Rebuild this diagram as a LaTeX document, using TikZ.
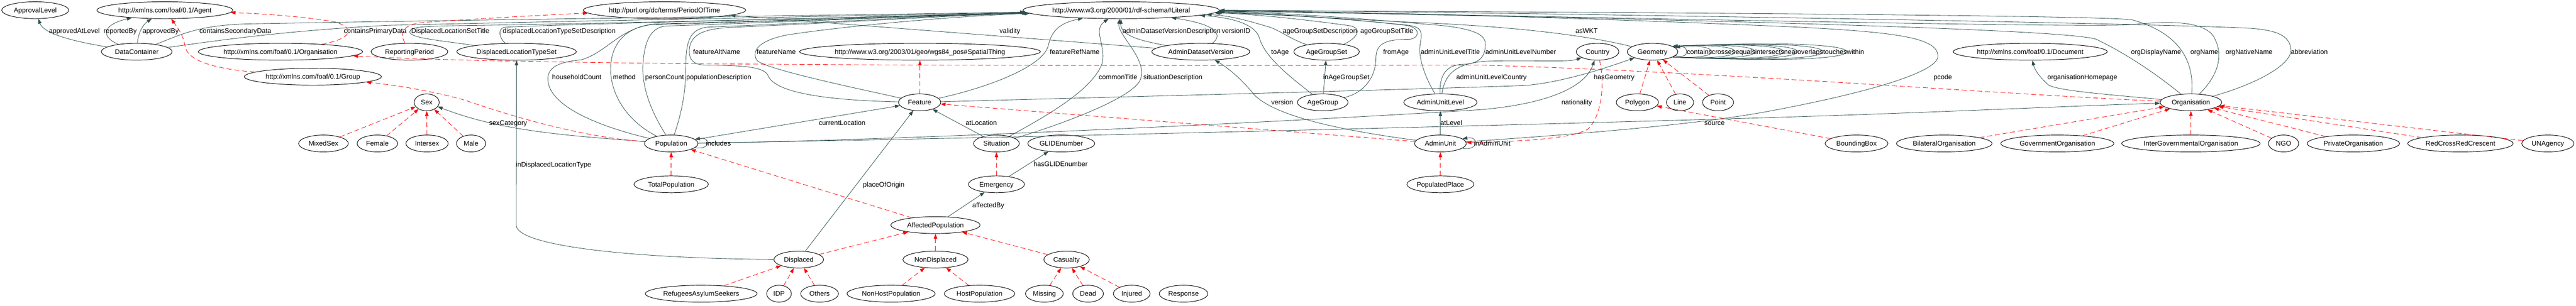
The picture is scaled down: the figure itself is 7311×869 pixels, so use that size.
\documentclass[tikz,border=0pt]{standalone}
\usepackage{fontspec}
\newfontfamily\lsans{Liberation Sans}
\usetikzlibrary{shapes.geometric,arrows.meta}
\definecolor{edgecol}{HTML}{2F4F4F}
\newcommand{\nf}{\lsans\fontsize{9.6}{11}\selectfont}
\begin{document}
\begin{tikzpicture}[x=0.5pt,y=-0.5pt,
 cls/.style={draw,ellipse,line width=0.7pt,minimum height=24pt,inner sep=0pt,font=\nf,text height=6.9pt,text depth=0pt},
 e/.style={draw=edgecol,line width=0.6pt,-{Triangle[length=7pt,width=5pt]}},
 sub/.style={draw=red,line width=0.6pt,dash pattern=on 7pt off 4pt,-{Triangle[length=7pt,width=5pt]}},
 lab/.style={font=\nf,inner sep=0pt,text height=6.9pt,text depth=0pt}]
\fill[white] (0,0) rectangle (7311,869);
\useasboundingbox (0,0) rectangle (7311,869);
% ---------- nodes ----------
\node[cls,minimum width=95pt] (approval) at (100,29) {ApprovalLevel};
\node[cls,minimum width=193pt] (agent) at (468,29) {http://xmlns.com/foaf/0.1/Agent};
\node[cls,minimum width=230.5pt] (period) at (1886,29) {http://purl.org/dc/terms/PeriodOfTime};
\node[cls,minimum width=278.5pt] (lit) at (3182,29) {http://www.w3.org/2000/01/rdf-schema\#Literal};
\node[cls,minimum width=100.5pt] (dc) at (388,147) {DataContainer};
\node[cls,minimum width=233pt] (forg) at (796,147) {http://xmlns.com/foaf/0.1/Organisation};
\node[cls,minimum width=109pt] (rperiod) at (1162,147) {ReportingPeriod};
\node[cls,minimum width=169.5pt] (dlts) at (1466,147) {DisplacedLocationTypeSet};
\node[cls,minimum width=337pt] (spatial) at (2611,147) {http://www.w3.org/2003/01/geo/wgs84\_pos\#SpatialThing};
\node[cls,minimum width=139pt] (adv) at (3408,147) {AdminDatasetVersion};
\node[cls,minimum width=93pt] (ags) at (3765,147) {AgeGroupSet};
\node[cls,minimum width=60.5pt] (country) at (4534,147) {Country};
\node[cls,minimum width=72pt] (geom) at (4690,147) {Geometry};
\node[cls,minimum width=218.5pt] (doc) at (5762,147) {http://xmlns.com/foaf/0.1/Document};
\node[cls,minimum width=194.5pt] (group) at (888,218) {http://xmlns.com/foaf/0.1/Group};
\node[cls,minimum width=35.5pt] (sex) at (1211,291) {Sex};
\node[cls,minimum width=60pt] (feature) at (2610,291) {Feature};
\node[cls,minimum width=72pt] (ag) at (3754,291) {AgeGroup};
\node[cls,minimum width=104pt] (aul) at (4088,291) {AdminUnitLevel};
\node[cls,minimum width=60pt] (polygon) at (4647,291) {Polygon};
\node[cls,minimum width=38.5pt] (line) at (4768,291) {Line};
\node[cls,minimum width=44pt] (point) at (4876,291) {Point};
\node[cls,minimum width=87.5pt] (org) at (6218,291) {Organisation};
\node[cls,minimum width=70.5pt] (mixed) at (918,408) {MixedSex};
\node[cls,minimum width=57.5pt] (female) at (1071,408) {Female};
\node[cls,minimum width=60pt] (intersex) at (1212,408) {Intersex};
\node[cls,minimum width=41.5pt] (male) at (1337,408) {Male};
\node[cls,minimum width=76pt] (pop) at (1905,408) {Population};
\node[cls,minimum width=65pt] (situation) at (2828,408) {Situation};
\node[cls,minimum width=95pt] (glide) at (3012,408) {GLIDEnumber};
\node[cls,minimum width=73.5pt] (au) at (4088,408) {AdminUnit};
\node[cls,minimum width=89pt] (bbox) at (5269,408) {BoundingBox};
\node[cls,minimum width=135.5pt] (bilat) at (5518,408) {BilateralOrganisation};
\node[cls,minimum width=160.5pt] (gov) at (5839,408) {GovernmentOrganisation};
\node[cls,minimum width=196.5pt] (igo) at (6218,408) {InterGovernmentalOrganisation};
\node[cls,minimum width=43pt] (ngo) at (6481,408) {NGO};
\node[cls,minimum width=131pt] (priv) at (6679,408) {PrivateOrganisation};
\node[cls,minimum width=149.5pt] (rc) at (6983,408) {RedCrossRedCrescent};
\node[cls,minimum width=74pt] (un) at (7231,408) {UNAgency};
\node[cls,minimum width=105.5pt] (totpop) at (1905,524) {TotalPopulation};
\node[cls,minimum width=79.5pt] (emerg) at (2828,524) {Emergency};
\node[cls,minimum width=95pt] (pplace) at (4088,524) {PopulatedPlace};
\node[cls,minimum width=126.5pt] (affpop) at (2655,640) {AffectedPopulation};
\node[cls,minimum width=70.5pt] (displaced) at (2267,738) {Displaced};
\node[cls,minimum width=92.5pt] (nondisp) at (2655,738) {NonDisplaced};
\node[cls,minimum width=64.5pt] (casualty) at (3027,738) {Casualty};
\node[cls,minimum width=158.5pt] (refugees) at (1990,835) {RefugeesAsylumSeekers};
\node[cls,minimum width=35pt] (idp) at (2211,835) {IDP};
\node[cls,minimum width=53.5pt] (others) at (2326,835) {Others};
\node[cls,minimum width=125pt] (nonhost) at (2529,835) {NonHostPopulation};
\node[cls,minimum width=100pt] (host) at (2780,835) {HostPopulation};
\node[cls,minimum width=53.5pt] (missing) at (2964,835) {Missing};
\node[cls,minimum width=43.5pt] (dead) at (3088,835) {Dead};
\node[cls,minimum width=52pt] (injured) at (3212,835) {Injured};
\node[cls,minimum width=69pt] (response) at (3359,835) {Response};
% ---------- solid edges ----------
\draw[e] (dc) .. controls (160,110) and (120,85) .. (approval);
\draw[e] (dc) .. controls (285,105) and (290,70) .. (agent);
\draw[e] (dc) .. controls (392,95) and (405,70) .. (agent);
\draw[e] (dc) .. controls (510,100) and (560,72) .. (700,68) .. controls (1400,55) and (2500,42) .. (lit);
\draw[e] (dc) .. controls (620,115) and (800,88) .. (1100,72) .. controls (1700,58) and (2500,44) .. (lit);
\draw[e] (dlts) .. controls (1250,115) and (1160,108) .. (1163,90) .. controls (1165,76) and (1200,75) .. (1300,73) .. controls (2000,62) and (2600,44) .. (lit);
\draw[e] (dlts) .. controls (1420,112) and (1410,85) .. (1430,78) .. controls (1460,72) and (2500,48) .. (lit);
\draw[e] (pop) .. controls (1700,360) and (1550,300) .. (1555,220) .. controls (1558,185) and (1600,175) .. (1650,170) .. controls (1720,150) and (1760,80) .. (1850,70) .. controls (2300,58) and (2700,44) .. (lit);
\draw[e] (pop) .. controls (1790,350) and (1735,280) .. (1733,200) .. controls (1732,120) and (1780,75) .. (1860,68) .. controls (2300,56) and (2700,42) .. (lit);
\draw[e] (pop) .. controls (1850,320) and (1820,250) .. (1825,180) .. controls (1830,110) and (1850,78) .. (1890,74) .. controls (2300,60) and (2700,42) .. (lit);
\draw[e] (pop) .. controls (1935,320) and (1946,260) .. (1946,200) .. controls (1946,120) and (1955,82) .. (2010,77) .. controls (2400,62) and (2700,42) .. (lit);
\draw[e] (feature) .. controls (2350,285) and (2200,265) .. (2180,215) .. controls (2168,188) and (2100,186) .. (2000,185) .. controls (1960,184) and (1952,160) .. (1958,130) .. controls (1968,92) and (2010,82) .. (2070,78) .. controls (2400,64) and (2700,44) .. (lit);
\draw[e] (feature) .. controls (2450,255) and (2160,195) .. (2147,170) .. controls (2132,140) and (2160,115) .. (2230,100) .. controls (2380,76) and (2700,46) .. (lit);
\draw[e] (feature) .. controls (2800,250) and (2960,190) .. (2975,130) .. controls (2985,85) and (3010,65) .. (lit);
\draw[e] (feature) .. controls (3000,280) and (4000,255) .. (4330,243) .. controls (4450,232) and (4580,185) .. (geom);
\draw[e] (situation) .. controls (2950,340) and (3100,260) .. (3128,180) .. controls (3140,130) and (3100,85) .. (lit);
\draw[e] (situation) .. controls (2960,370) and (3200,290) .. (3235,230) .. controls (3262,170) and (3170,100) .. (lit);
\draw[e] (adv) -- (period);
\draw[e] (adv) .. controls (3230,115) and (3180,100) .. (lit);
\draw[e] (adv) .. controls (3465,105) and (3470,72) .. (lit);
\draw[e] (ag) .. controls (3650,210) and (3590,160) .. (3575,110) .. controls (3565,70) and (3500,50) .. (lit);
\draw[e] (ag) -- (ags);
\draw[e] (ags) .. controls (3660,110) and (3630,85) .. (3600,76) .. controls (3550,62) and (3500,45) .. (lit);
\draw[e] (ags) .. controls (3850,110) and (3870,80) .. (3830,73) .. controls (3700,55) and (3560,40) .. (lit);
\draw[e] (ag) .. controls (3870,265) and (3905,220) .. (3905,165) .. controls (3905,120) and (3940,112) .. (3995,112) .. controls (4030,112) and (4035,78) .. (3990,72) .. controls (3800,50) and (3600,38) .. (lit);
\draw[e] (aul) .. controls (4050,230) and (4025,170) .. (4030,130) .. controls (4036,92) and (4040,76) .. (3990,71) .. controls (3800,52) and (3600,38) .. (lit);
\draw[e] (aul) .. controls (4085,220) and (4100,185) .. (4150,183) .. controls (4200,182) and (4218,160) .. (4215,120) .. controls (4212,90) and (4150,76) .. (4050,69) .. controls (3800,47) and (3600,35) .. (lit);
\draw[e] (aul) .. controls (4100,220) and (4120,180) .. (4220,174) .. controls (4350,170) and (4450,178) .. (country);
\draw[e] (au) -- (aul);
\draw[e] (au) .. controls (3800,370) and (3620,330) .. (3560,270) .. controls (3520,220) and (3480,190) .. (adv);
\draw[e] (au.-12) .. controls (4198,430) and (4198,386) .. (au.12);
\draw[e] (au) .. controls (4500,380) and (4800,355) .. (5000,320) .. controls (5300,265) and (5500,205) .. (5500,160) .. controls (5500,110) and (5400,92) .. (5100,77) .. controls (4500,50) and (3800,32) .. (lit);
\draw[e] (pop) .. controls (2500,400) and (3500,355) .. (4200,312) .. controls (4400,295) and (4500,245) .. (country);
\draw[e] (pop) .. controls (3000,390) and (4500,350) .. (5000,335) .. controls (5500,320) and (5900,300) .. (org);
\draw[e] (pop) -- (feature);
\draw[e] (pop) .. controls (1600,385) and (1420,372) .. (sex);
\draw[e] (pop.-10) .. controls (2018,428) and (2018,388) .. (pop.10);
\draw[e] (geom) .. controls (4500,100) and (4300,75) .. (4000,63) .. controls (3800,53) and (3600,40) .. (lit);
% geometry self loops
\draw[e] (geom.-10) .. controls (4779,164) and (4787,156) .. (4787,147) .. controls (4787,138) and (4779,130) .. (geom.10);
\draw[e] (geom.-15) .. controls (4829,166) and (4858,157) .. (4858,147) .. controls (4858,137) and (4829,128) .. (geom.15);
\draw[e] (geom.-15) .. controls (4876,168) and (4925,158) .. (4925,147) .. controls (4925,136) and (4876,126) .. (geom.15);
\draw[e] (geom.-15) .. controls (4915,170) and (4981,160) .. (4981,147) .. controls (4981,134) and (4915,124) .. (geom.15);
\draw[e] (geom.-15) .. controls (4972,172) and (5063,161) .. (5063,147) .. controls (5063,133) and (4972,122) .. (geom.15);
\draw[e] (geom.-15) .. controls (4999,174) and (5101,162) .. (5101,147) .. controls (5101,132) and (4999,120) .. (geom.15);
\draw[e] (geom.-15) .. controls (5050,176) and (5174,163) .. (5174,147) .. controls (5174,131) and (5050,118) .. (geom.15);
\draw[e] (geom.-15) .. controls (5097,178) and (5241,164) .. (5241,147) .. controls (5241,130) and (5097,116) .. (geom.15);
% organisation
\draw[e] (org) .. controls (6120,210) and (6030,150) .. (5950,112) .. controls (5850,72) and (3800,36) .. (lit);
\draw[e] (org) .. controls (6226,200) and (6210,100) .. (6050,56) .. controls (5900,40) and (3800,31) .. (lit);
\draw[e] (org) .. controls (6300,210) and (6312,150) .. (6280,100) .. controls (6245,58) and (6150,60) .. (6050,70) .. controls (5900,82) and (3800,33) .. (lit);
\draw[e] (org) .. controls (6400,240) and (6505,185) .. (6502,140) .. controls (6498,100) and (6460,85) .. (6380,80) .. controls (6000,62) and (3800,29) .. (lit);
\draw[e] (org) .. controls (6000,270) and (5830,258) .. (5812,240) .. controls (5790,220) and (5775,200) .. (doc);
% lower part
\draw[e] (situation) -- (feature);
\draw[e] (displaced) -- (feature);
\draw[e] (displaced) .. controls (1800,735) and (1465,700) .. (1465,640) -- (dlts);
\draw[e] (affpop) -- (emerg);
\draw[e] (emerg) -- (glide);
% ---------- subclass edges ----------
\draw[sub] (forg) .. controls (1000,110) and (1010,80) .. (950,62) .. controls (850,45) and (720,38) .. (agent);
\draw[sub] (group) .. controls (600,195) and (530,170) .. (525,130) .. controls (520,100) and (505,80) .. (agent);
\draw[sub] (rperiod) .. controls (1135,95) and (1140,70) .. (1200,64) .. controls (1400,50) and (1600,40) .. (period);
\draw[sub] (org) .. controls (5700,270) and (4900,205) .. (4200,185) .. controls (3000,188) and (1500,187) .. (forg);
\draw[sub] (pop) .. controls (1650,390) and (1450,330) .. (1320,285) .. controls (1250,265) and (1150,245) .. (group);
\draw[sub] (mixed) -- (sex);
\draw[sub] (female) -- (sex);
\draw[sub] (intersex) -- (sex);
\draw[sub] (male) -- (sex);
\draw[sub] (totpop) -- (pop);
\draw[sub] (affpop) -- (pop);
\draw[sub] (displaced) -- (affpop);
\draw[sub] (nondisp) -- (affpop);
\draw[sub] (casualty) -- (affpop);
\draw[sub] (refugees) -- (displaced);
\draw[sub] (idp) -- (displaced);
\draw[sub] (others) -- (displaced);
\draw[sub] (nonhost) -- (nondisp);
\draw[sub] (host) -- (nondisp);
\draw[sub] (missing) -- (casualty);
\draw[sub] (dead) -- (casualty);
\draw[sub] (injured) -- (casualty);
\draw[sub] (emerg) -- (situation);
\draw[sub] (feature) -- (spatial);
\draw[sub] (pplace) -- (au);
\draw[sub] (country) .. controls (4558,250) and (4540,340) .. (4505,368) .. controls (4450,400) and (4250,403) .. (au);
\draw[sub] (au) -- (feature);
\draw[sub] (polygon) -- (geom);
\draw[sub] (line) -- (geom);
\draw[sub] (point) -- (geom);
\draw[sub] (bbox) -- (polygon);
\draw[sub] (bilat) -- (org);
\draw[sub] (gov) -- (org);
\draw[sub] (igo) -- (org);
\draw[sub] (ngo) -- (org);
\draw[sub] (priv) -- (org);
\draw[sub] (rc) -- (org);
\draw[sub] (un) -- (org);
% ---------- edge labels ----------
\node[lab] (l1) at (211,88) {approvedAtLevel};
\node[lab] (l2) at (341,88) {reportedBy};
\node[lab] (l3) at (456,88) {approvedBy};
\node[lab] (l4) at (668,88) {containsSecondaryData};
\node[lab] (l5) at (1065,88) {containsPrimaryData};
\node[lab] (l6) at (1278,88) {DisplacedLocationSetTitle};
\node[lab] (l7) at (1587,88) {displacedLocationTypeSetDescription};
\node[lab] (l8) at (2866,88) {validity};
\node[lab] (l9) at (3325,88) {adminDatasetVersionDescription};
\node[lab] (l10) at (3508,88) {versionID};
\node[lab] (l11) at (3746,88) {ageGroupSetDescription};
\node[lab] (l12) at (3936,88) {ageGroupSetTitle};
\node[lab] (l13) at (4503,88) {asWKT};
\node[lab] (l14) at (2034,147) {featureAltName};
\node[lab] (l15) at (2203,147) {featureName};
\node[lab] (l16) at (3050,147) {featureRefName};
\node[lab] (l17) at (3633,147) {toAge};
\node[lab] (l18) at (3962,147) {fromAge};
\node[lab] (l19) at (4116,147) {adminUnitLevelTitle};
\node[lab] (l20) at (4316,147) {adminUnitLevelNumber};
\node[lab,anchor=west] (g1) at (4787,147) {contains};
\node[lab,anchor=west] (g2) at (4858,147) {crosses};
\node[lab,anchor=west] (g3) at (4925,147) {equals};
\node[lab,anchor=west] (g4) at (4981,147) {intersects};
\node[lab,anchor=west] (g5) at (5063,147) {near};
\node[lab,anchor=west] (g6) at (5101,147) {overlaps};
\node[lab,anchor=west] (g7) at (5174,147) {touches};
\node[lab,anchor=west] (g8) at (5241,147) {within};
\node[lab] (l21) at (6119,147) {orgDisplayName};
\node[lab] (l22) at (6256,147) {orgName};
\node[lab] (l23) at (6383,147) {orgNativeName};
\node[lab] (l24) at (6554,147) {abbreviation};
\node[lab] (l25) at (1637,219) {householdCount};
\node[lab] (l26) at (1772,219) {method};
\node[lab] (l27) at (1886,219) {personCount};
\node[lab] (l28) at (2040,219) {populationDescription};
\node[lab] (l29) at (3173,219) {commonTitle};
\node[lab] (l30) at (3329,219) {situationDescription};
\node[lab] (l31) at (3821,219) {inAgeGroupSet};
\node[lab] (l32) at (4233,219) {adminUnitLevelCountry};
\node[lab] (l33) at (4581,219) {hasGeometry};
\node[lab] (l34) at (5514,219) {pcode};
\node[lab] (l35) at (5910,219) {organisationHomepage};
\node[lab] (l36) at (3639,291) {version};
\node[lab] (l37) at (4475,291) {nationality};
\node[lab] (l38) at (1442,349) {sexCategory};
\node[lab] (l39) at (2390,349) {currentLocation};
\node[lab] (l40) at (2785,349) {atLocation};
\node[lab] (l41) at (4119,349) {atLevel};
\node[lab] (l42) at (4866,349) {source};
\node[lab] (l43) at (2039,408) {includes};
\node[lab] (l44) at (4235,408) {inAdminUnit};
\node[lab] (l45) at (1571,467) {inDisplacedLocationType};
\node[lab] (l46) at (3010,466) {hasGLIDEnumber};
\node[lab] (l47) at (2508,525) {placeOfOrigin};
\node[lab] (l48) at (2805,583) {affectedBy};
\end{tikzpicture}
\end{document}
